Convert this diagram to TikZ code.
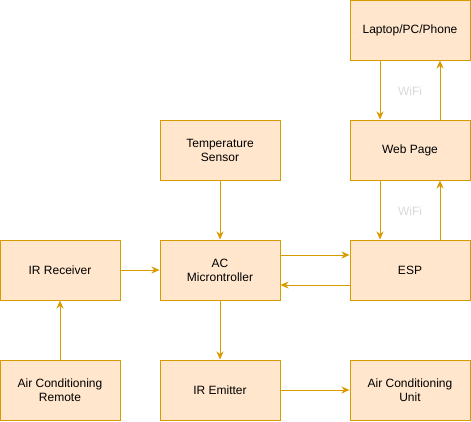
\documentclass[tikz,border=0pt]{standalone}
\usepackage{fontspec}
\setmainfont{Liberation Sans}
\usetikzlibrary{arrows.meta}
\definecolor{boxfill}{HTML}{FFE6CC}
\definecolor{boxline}{HTML}{D79B00}
\tikzset{
  block/.style={draw=boxline,fill=boxfill,line width=1pt,minimum width=120pt,minimum height=60pt,
    align=center,font=\fontsize{12}{14}\selectfont,inner sep=0pt},
  link/.style={draw=boxline,line width=1pt,-{Stealth[length=8pt,width=7pt,inset=2.5pt]}},
  wifi/.style={text=black!15,font=\fontsize{12}{14}\selectfont}
}
\begin{document}
\begin{tikzpicture}[x=1pt,y=-1pt]
    \useasboundingbox (0,0) rectangle (471,421);
    % top right column
    \node[block] (lap) at (410,30) {Laptop/PC/Phone};
    \node[block] (web) at (410,150) {Web Page};
    \node[block] (esp) at (410,270) {ESP};
    \node[block] (unit) at (410,390) {Air Conditioning\\Unit};
    % middle column
    \node[block] (temp) at (220,150) {Temperature\\Sensor};
    \node[block] (mcu) at (220,270) {AC\\Microntroller};
    \node[block] (emit) at (220,390) {IR Emitter};
    % left column
    \node[block] (recv) at (60,270) {IR Receiver};
    \node[block] (remote) at (60,390) {Air Conditioning\\Remote};

    \node[wifi] (wifi1) at (410,91) {WiFi};
    \node[wifi] (wifi2) at (410,211) {WiFi};

    \draw[link] ([xshift=-30pt]lap.south) -- ([xshift=-30pt]web.north);
    \draw[link] ([xshift=30pt]web.north) -- ([xshift=30pt]lap.south);
    \draw[link] ([xshift=-30pt]web.south) -- ([xshift=-30pt]esp.north);
    \draw[link] ([xshift=30pt]esp.north) -- ([xshift=30pt]web.south);
    \draw[link] ([yshift=15pt]mcu.east) -- ([yshift=15pt]esp.west);
    \draw[link] ([yshift=-15pt]esp.west) -- ([yshift=-15pt]mcu.east);
    \draw[link] (temp) -- (mcu);
    \draw[link] (mcu) -- (emit);
    \draw[link] (recv) -- (mcu);
    \draw[link] (remote) -- (recv);
    \draw[link] (emit) -- (unit);
\end{tikzpicture}
\end{document}
